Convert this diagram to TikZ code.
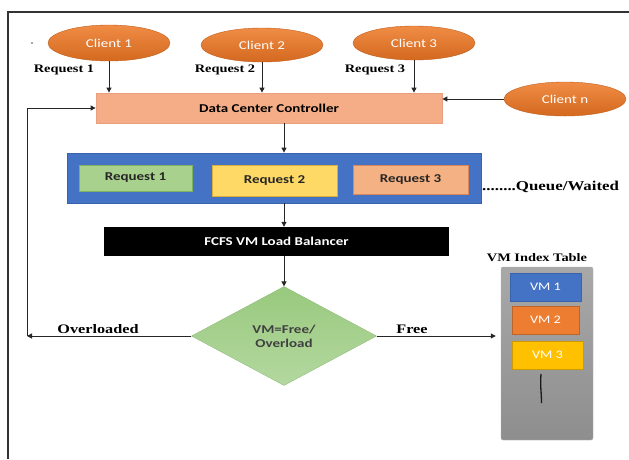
\documentclass[tikz,border=0pt]{standalone}
\usepackage{fontspec}
\usepackage{graphicx}
\setmainfont{Liberation Serif}
\newfontfamily\carlito{Carlito}
\usetikzlibrary{arrows.meta,shapes.geometric}
% text in this figure is set slightly wide
\newcommand\hstretch[1]{\scalebox{1.25}[1]{#1}}

\definecolor{clientTop}{HTML}{F08C45}
\definecolor{clientBot}{HTML}{D4691F}
\definecolor{dccFill}{HTML}{F5AD88}
\definecolor{dccLine}{HTML}{E8A080}
\definecolor{queueBlue}{HTML}{4472C4}
\definecolor{queueLine}{HTML}{3A63AE}
\definecolor{reqGreen}{HTML}{A9D18E}
\definecolor{reqGreenLine}{HTML}{7DB35C}
\definecolor{reqYellow}{HTML}{FFD966}
\definecolor{reqYellowLine}{HTML}{D9AE3A}
\definecolor{reqSalmon}{HTML}{F4B183}
\definecolor{reqSalmonLine}{HTML}{D9865A}
\definecolor{diaTop}{HTML}{98C97D}
\definecolor{diaBot}{HTML}{B4D8A0}
\definecolor{tblTop}{HTML}{A8A8A8}
\definecolor{tblBot}{HTML}{8E8E8E}
\definecolor{vmOrange}{HTML}{ED7D31}
\definecolor{vmYellow}{HTML}{FFC000}

\begin{document}
\begin{tikzpicture}[x=1pt,y=-1pt,
  arr/.style={draw=black!85, line width=1pt, -{Triangle[length=5pt,width=5pt]}},
  client/.style={ellipse, minimum width=122pt, minimum height=36pt, inner sep=0pt,
    top color=clientTop, bottom color=clientBot, draw=clientBot!90!black, line width=0.4pt,
    text=white, font=\carlito\fontsize{12}{14}\selectfont},
  reqlabel/.style={font=\bfseries\fontsize{11.5}{13}\selectfont, inner sep=0pt},
  flowlabel/.style={font=\bfseries\fontsize{13}{15}\selectfont, inner sep=0pt},
  boxtext/.style={rectangle, inner sep=0pt, font=\carlito\bfseries\fontsize{12}{14}\selectfont},
  qbox/.style={boxtext, line width=0.8pt, text=black!85},
  vmbox/.style={rectangle, inner sep=0pt, line width=0.8pt, text=white,
    font=\carlito\fontsize{11.5}{14}\selectfont}
]
\useasboundingbox (0,0) rectangle (629,459);

% frame lines
\draw[line width=1.3pt, black!80] (8,459) -- (8,12) -- (629,12);
\fill[black!70] (32,43) circle (0.9pt);

% clients
\node[client] (c1) at (109,43) {\hstretch{Client 1}};
\node[client, minimum height=34pt] (c2) at (262,45) {\hstretch{Client 2}};
\node[client, minimum height=34pt] (c3) at (414,43) {\hstretch{Client 3}};
\node[client, minimum height=34pt] (cn) at (565,99) {\hstretch{Client n}};

% data center controller
\node[boxtext, fill=dccFill, draw=dccLine, line width=0.8pt,
  minimum width=346pt, minimum height=30pt] (dcc) at (269,108) {\hstretch{Data Center Controller}};

\node[reqlabel] (l1) at (64,70) {\hstretch{Request 1}};
\node[reqlabel] (l2) at (225,70) {\hstretch{Request 2}};
\node[reqlabel] (l3) at (375,70) {\hstretch{Request 3}};

\draw[arr] (c1.south) -- (c1.south |- dcc.north);
\draw[arr] (c2.south) -- (c2.south |- dcc.north);
\draw[arr] (c3.south) -- (c3.south |- dcc.north);
\draw[arr] (cn.west) -- (cn.west -| dcc.east);

% waiting queue
\node[rectangle, fill=queueBlue, draw=queueLine, line width=0.8pt,
  minimum width=414pt, minimum height=50pt] (queue) at (274,178) {};
\node[qbox, fill=reqGreen, draw=reqGreenLine, minimum width=113pt, minimum height=26pt]
  (r1) at (135.5,178) {\hstretch{Request 1}};
\node[qbox, fill=reqYellow, draw=reqYellowLine, minimum width=125pt, minimum height=31pt]
  (r2) at (274.5,180.5) {\hstretch{Request 2}};
\node[qbox, fill=reqSalmon, draw=reqSalmonLine, minimum width=115pt, minimum height=29pt]
  (r3) at (410.5,179.5) {\hstretch{Request 3}};
\node[font=\bfseries\fontsize{13.5}{15}\selectfont, inner sep=0pt, anchor=west]
  (qlabel) at (482,187) {\hstretch{........Queue/Waited}};

% load balancer
\node[boxtext, fill=black, text=white, minimum width=345pt, minimum height=29pt]
  (fcfs) at (276.5,241.5) {\hstretch{FCFS VM Load Balancer}};

% decision
\node[diamond, aspect=1.87, minimum width=185pt, minimum height=99pt, inner sep=0pt,
  top color=diaTop, bottom color=diaBot, draw=diaTop!90!black, line width=0.3pt,
  align=center, text=black!75, font=\carlito\bfseries\fontsize{12}{15}\selectfont]
  (dia) at (284,336) {\hstretch{VM=Free/}\\[-1pt]\hstretch{Overload}};

\draw[arr] (dia.north |- dcc.south) -- (dia.north |- queue.north);
\draw[arr] (dia.north |- queue.south) -- (dia.north |- fcfs.north);
\draw[arr] (dia.north |- fcfs.south) -- (dia.north);

% VM index table
\node[font=\bfseries\fontsize{11.5}{13}\selectfont, inner sep=0pt]
  (tbltitle) at (537,258) {\hstretch{VM Index Table}};
\node[rectangle, rounded corners=2pt, top color=tblTop, bottom color=tblBot,
  draw=black!30, line width=0.4pt, minimum width=92pt, minimum height=173pt]
  (tbl) at (547,353.5) {};
\node[vmbox, fill=queueBlue, draw=queueLine, minimum width=71pt, minimum height=28pt]
  (vm1) at (545.5,287) {\hstretch{VM 1}};
\node[vmbox, fill=vmOrange, draw=vmOrange!80!black, minimum width=67pt, minimum height=28pt]
  (vm2) at (545.5,320) {\hstretch{VM 2}};
\node[vmbox, fill=vmYellow, draw=vmYellow!80!black, minimum width=71pt, minimum height=28pt]
  (vm3) at (547.5,355) {\hstretch{VM 3}};
\coordinate (dotsTop) at (541,374);
\coordinate (dotsBot) at (541.5,403);
\draw[line width=1.3pt, black!90] (dotsTop) .. controls (540,386) and (541.5,392) .. (dotsBot);

% outcomes
\coordinate (fb) at (27,336);
\draw[arr] (dia.west) -- (fb);
\draw[arr] (fb) |- (dcc.west);
\node[flowlabel] (ovl) at (98,329) {\hstretch{Overloaded}};
\draw[arr, shorten >=5pt] (dia.east) -- (dia.east -| tbl.west);
\node[flowlabel] (free) at (412,329) {\hstretch{Free}};
\end{tikzpicture}
\end{document}
